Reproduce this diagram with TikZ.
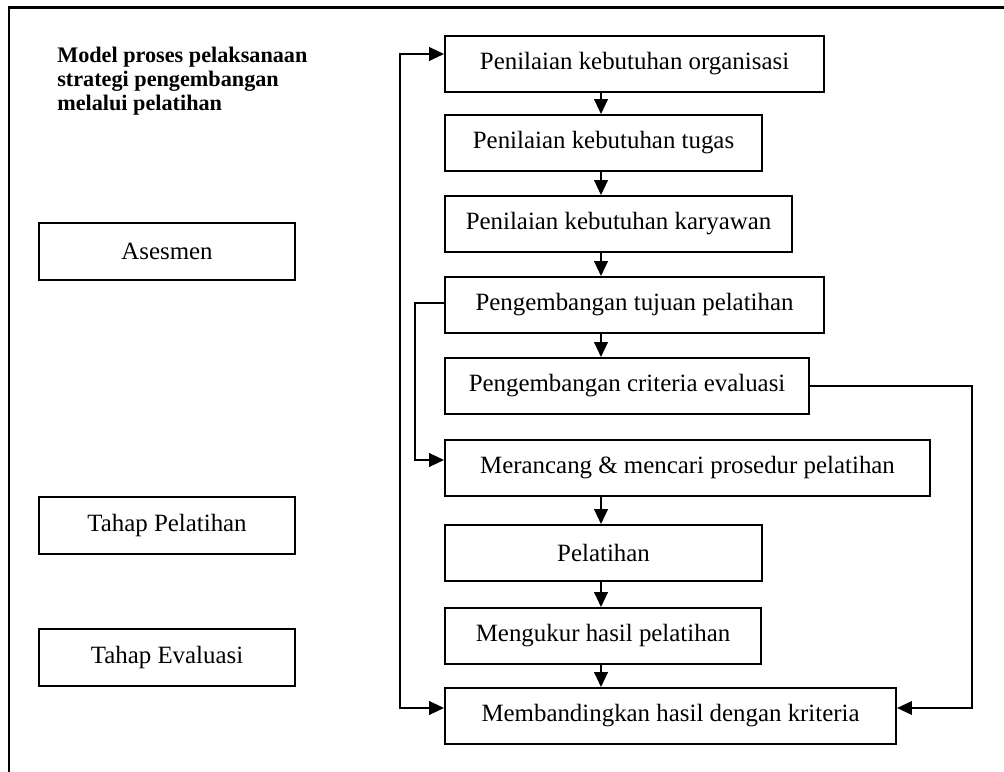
\documentclass[tikz,border=0pt]{standalone}
\usepackage{fontspec}
\setmainfont{Liberation Serif}
\usetikzlibrary{arrows.meta}

\begin{document}
\begin{tikzpicture}[
        x                       = 0.025cm,
        y                       = -0.025cm,
        kotak/.style            = {draw, black, line width=1.4pt, anchor=north west, inner sep=0pt,
                                   minimum height=1.4cm, font=\fontsize{17.7}{21}\selectfont},
        tahap/.style            = {kotak, minimum width=6.4cm, minimum height=1.425cm},
        panah/.style            = {line width=1.2pt, -{Triangle[length=0.37cm,width=0.34cm]}},
        panahdua/.style         = {line width=1.2pt, {Triangle[length=0.37cm,width=0.34cm]}-{Triangle[length=0.37cm,width=0.34cm]}},
      ]
        \useasboundingbox (0,0) rectangle (1004,771);
        % bingkai luar
        \draw[line width=1.6pt] (9,790) -- (9,7.5) -- (1020,7.5);

        \node[anchor=north west, inner sep=0pt, align=left, font=\fontsize{15.8}{17}\selectfont\bfseries] (judul) at (57,46.5)
            {Model proses pelaksanaan\\strategi pengembangan\\melalui pelatihan};

        \node[tahap] (asesmen)   at (38,222) {Asesmen};
        \node[tahap] (pelatihan) at (38,496) {Tahap Pelatihan};
        \node[tahap] (evaluasi)  at (38,628) {Tahap Evaluasi};

        \node[kotak, minimum width=9.475cm]  (nilaiorg)   at (444,35)  {Penilaian kebutuhan organisasi};
        \node[kotak, minimum width=7.925cm]  (nilaitugas) at (444,114) {Penilaian kebutuhan tugas};
        \node[kotak, minimum width=8.675cm]  (nilaikary)  at (444,195) {Penilaian kebutuhan karyawan};
        \node[kotak, minimum width=9.475cm]  (tujuan)     at (444,276) {Pengembangan tujuan pelatihan};
        \node[kotak, minimum width=9.1cm]    (kriteria)   at (444,357) {Pengembangan criteria evaluasi};
        \node[kotak, minimum width=12.125cm] (merancang)  at (444,439) {Merancang \& mencari prosedur pelatihan};
        \node[kotak, minimum width=7.925cm]  (latih)      at (444,524) {Pelatihan};
        \node[kotak, minimum width=7.9cm]    (ukur)       at (444,607) {Mengukur hasil pelatihan};
        \node[kotak, minimum width=11.275cm] (banding)    at (444,687) {Membandingkan hasil dengan kriteria};

        \coordinate (kol)   at (601,0);
        \coordinate (kiri)  at (400,0);
        \coordinate (kiri2) at (415,0);
        \coordinate (kanan) at (972,0);

        \draw[panah] (nilaiorg.south -| kol)   -- (nilaitugas.north -| kol);
        \draw[panah] (nilaitugas.south -| kol) -- (nilaikary.north -| kol);
        \draw[panah] (nilaikary.south -| kol)  -- (tujuan.north -| kol);
        \draw[panah] (tujuan.south -| kol)     -- (kriteria.north -| kol);
        \draw[panah] (merancang.south -| kol)  -- (latih.north -| kol);
        \draw[panah] (latih.south -| kol)      -- (ukur.north -| kol);
        \draw[panah] (ukur.south -| kol)       -- (banding.north -| kol);

        % umpan balik
        \draw[panahdua] ([yshift=0.2cm]banding.west) -- ([yshift=0.2cm]banding.west -| kiri)
                     -- ([yshift=0.25cm]nilaiorg.west -| kiri) -- ([yshift=0.25cm]nilaiorg.west);
        \draw[panah] ([yshift=0.05cm]tujuan.west) -- ([yshift=0.05cm]tujuan.west -| kiri2)
                     -- ([yshift=0.2cm]merancang.west -| kiri2) -- ([yshift=0.2cm]merancang.west);
        \draw[panah] (kriteria.east) -- (kriteria.east -| kanan)
                     -- ([yshift=0.2cm]banding.east -| kanan) -- ([yshift=0.2cm]banding.east);
\end{tikzpicture}
\end{document}
